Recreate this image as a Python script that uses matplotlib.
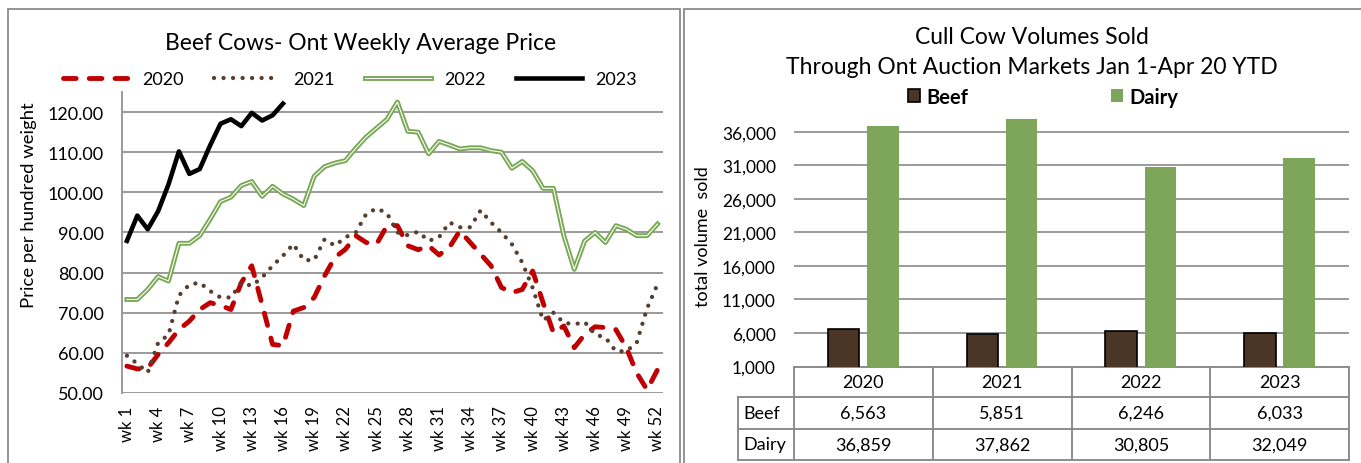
import matplotlib
matplotlib.use("Agg")
import matplotlib.pyplot as plt
from matplotlib.lines import Line2D
from matplotlib.patches import Patch, Rectangle
from matplotlib import transforms

plt.rcParams['font.family'] = ['Lato', 'DejaVu Sans']

# weekly beef cow prices ($/cwt)
weeks = list(range(1, 53))
week_labels = ['wk %d' % w for w in weeks]
p2020 = [56.7, 56.0, 56.2, 59.6, 62.5, 65.8, 67.9, 70.8, 72.5, 71.8,
         70.8, 77.5, 81.7, 72.0, 62.1, 61.8, 70.4, 71.3, 73.8, 79.2,
         83.8, 85.8, 89.2, 87.5, 87.1, 91.7, 91.7, 86.7, 85.7, 86.7,
         84.4, 86.3, 90.4, 87.5, 84.6, 81.7, 76.3, 75.0, 75.8, 80.4,
         72.5, 65.0, 66.7, 61.3, 64.6, 66.5, 66.3, 65.8, 61.3, 55.0,
         50.8, 55.8]
p2021 = [59.3, 57.3, 55.1, 62.5, 64.5, 74.3, 77.0, 77.5, 75.4, 73.8,
         73.8, 77.5, 76.7, 78.8, 81.7, 84.2, 87.1, 83.1, 83.1, 88.3,
         86.7, 88.8, 90.0, 94.6, 96.0, 94.8, 90.0, 89.3, 90.2, 87.9,
         88.8, 92.5, 91.3, 91.3, 95.5, 92.5, 90.0, 87.1, 82.5, 76.2,
         68.1, 70.0, 67.5, 67.1, 67.7, 64.6, 63.8, 60.4, 60.4, 62.5,
         71.1, 77.1]
p2022 = [73.3, 73.3, 75.8, 79.0, 77.9, 87.3, 87.3, 89.2, 93.3, 97.7,
         98.8, 101.7, 102.7, 99.0, 101.5, 99.6, 98.3, 96.7, 104.0, 106.4,
         107.3, 107.9, 111.0, 113.8, 116.0, 118.2, 122.5, 115.2, 115.0, 109.6,
         112.7, 111.8, 110.8, 111.1, 111.1, 110.4, 110.0, 106.0, 107.7, 105.4,
         101.0, 101.0, 89.2, 80.8, 87.9, 90.0, 87.5, 91.7, 90.8, 89.2,
         89.2, 92.1]
p2023 = [87.9, 94.2, 90.8, 95.3, 102.0, 110.2, 104.6, 105.8, 111.7, 117.1,
         118.2, 116.5, 119.8, 117.9, 119.2, 122.1]

# cull cow volumes
years = ['2020', '2021', '2022', '2023']
beef = [6563, 5851, 6246, 6033]
dairy = [36859, 37862, 30805, 32049]

RED = '#C00000'
BROWN = '#563F2E'
GREEN = '#78A853'
BEEF_C = '#4B3526'
DAIRY_C = '#7EA65A'
GRID = '#9a9a9a'

W, H = 1361, 464
fig = plt.figure(figsize=(W / 100, H / 100), dpi=100)

# panel borders
fig.add_artist(Rectangle((8 / W, -0.02), (680 - 8) / W, 1.02 - 10 / H,
                         transform=fig.transFigure, fill=False, ec='#8a8a8a', lw=1.3))
fig.add_artist(Rectangle((684 / W, -0.02), (W + 5 - 684) / W, 1.02 - 10 / H,
                         transform=fig.transFigure, fill=False, ec='#8a8a8a', lw=1.3))

red_ls = (0, (2.6, 2.7))
dot_ls = (0, (0.01, 2.2))

# ---------- left chart: weekly prices ----------
ax = fig.add_axes([121.7 / W, 70 / H, 541 / W, 301 / H])
ax.plot(weeks, p2020, color=RED, lw=3.5, linestyle=red_ls,
        dash_capstyle='round', zorder=3)
ax.plot(weeks, p2021, color=BROWN, lw=3.1, linestyle=dot_ls,
        dash_capstyle='round', zorder=3)
ax.plot(weeks, p2022, color=GREEN, lw=3.5, zorder=3)
ax.plot(weeks, p2022, color='white', lw=0.8, zorder=3)
ax.plot(weeks[:len(p2023)], p2023, color='black', lw=3.3, zorder=4)

ax.set_xlim(0.5, 52.5)
ax.set_ylim(50, 125)
ax.set_yticks(range(50, 121, 10))
ax.set_yticklabels(['%.2f' % v for v in range(50, 121, 10)])
ax.set_xticks(weeks[::3])
ax.set_xticklabels(week_labels[::3], rotation=90)
ax.tick_params(axis='y', length=0, pad=13, labelsize=13)
ax.tick_params(axis='x', length=0, pad=9, labelsize=12)
ax.grid(axis='y', color=GRID, lw=1.4)
ax.set_axisbelow(True)
for s in ['top', 'right', 'bottom']:
    ax.spines[s].set_visible(False)
ax.spines['left'].set_color(GRID)
ax.spines['left'].set_linewidth(1.4)

fig.text(29.5 / W, 1 - 205 / H, 'Price per hundred weight', rotation=90,
         ha='center', va='center', fontsize=13.3)
fig.text(361 / W, 1 - 44 / H, 'Beef Cows- Ont Weekly Average Price',
         ha='center', va='center', fontsize=16.5)

h20 = Line2D([], [], color=RED, lw=3.5, linestyle=red_ls, dash_capstyle='round')
h21 = Line2D([], [], color=BROWN, lw=3.1, linestyle=dot_ls, dash_capstyle='round')
h22 = (Line2D([], [], color=GREEN, lw=3.5), Line2D([], [], color='white', lw=0.8))
h23 = Line2D([], [], color='black', lw=3.3)
fig.legend([h20, h21, h22, h23], years, loc='center',
           bbox_to_anchor=(350 / W, 1 - 80 / H), ncol=4, frameon=False,
           fontsize=13, handlelength=3.65, handletextpad=0.72, columnspacing=1.7)

# ---------- right chart: volumes ----------
ax2 = fig.add_axes([794 / W, 96.5 / H, 555 / W, 254.9 / H])
x = list(range(len(years)))
bw = 0.227
ax2.bar([i - 0.143 for i in x], beef, bw, color=BEEF_C,
        edgecolor='black', lw=1.2, zorder=3)
ax2.bar([i + 0.141 for i in x], dairy, bw, color=DAIRY_C, zorder=3)
ax2.set_xlim(-0.5, 3.5)
ax2.set_ylim(1000, 39000)
yt = list(range(1000, 36001, 5000))
ax2.set_yticks(yt)
ax2.set_yticklabels(['{:,}'.format(v) for v in yt])
ax2.set_xticks([])
ax2.tick_params(axis='y', length=0, pad=13, labelsize=12.5)
ax2.grid(axis='y', color=GRID, lw=1.4)
ax2.set_axisbelow(True)
for s in ax2.spines.values():
    s.set_visible(False)

fig.text(703 / W, 1 - 237 / H, 'total volume  sold', rotation=90,
         ha='center', va='center', fontsize=13)
fig.text(1032 / W, 1 - 38 / H, 'Cull Cow Volumes Sold', ha='center', va='center', fontsize=16.5)
fig.text(1032 / W, 1 - 68 / H, 'Through Ont Auction Markets Jan 1-Apr 20 YTD',
         ha='center', va='center', fontsize=16.5)

fig.legend([Patch(facecolor=BEEF_C, edgecolor='black', lw=1.2), Patch(facecolor=DAIRY_C)],
           ['Beef', 'Dairy'], loc='center', bbox_to_anchor=(1043 / W, 1 - 98 / H),
           ncol=2, frameon=False, prop={'weight': 'bold', 'size': 14.5},
           handlelength=0.62, handleheight=0.62, handletextpad=0.3, columnspacing=7.1)

# data table under the bars
ys = [0.0, -0.12, -0.245, -0.367]
xl = -0.101
tc = '#8c8c8c'

def hline(y, x0, x1):
    ax2.add_line(Line2D([x0, x1], [y, y], transform=ax2.transAxes, color=tc,
                        lw=1.4, clip_on=False))

def vline(xv, y0, y1):
    ax2.add_line(Line2D([xv, xv], [y0, y1], transform=ax2.transAxes, color=tc,
                        lw=1.4, clip_on=False))

hline(ys[0], 0, 1)
for y in ys[1:]:
    hline(y, xl, 1)
vline(xl, ys[1], ys[3])
for k in range(len(years) + 1):
    vline(k / len(years), ys[0], ys[3])

blend = transforms.blended_transform_factory(ax2.transData, ax2.transAxes)
mid = [(ys[i] + ys[i + 1]) / 2 for i in range(3)]
for i, yr in enumerate(years):
    ax2.text(i, mid[0], yr, transform=blend, ha='center', va='center', fontsize=13)
    ax2.text(i, mid[1], '{:,}'.format(beef[i]), transform=blend, ha='center', va='center', fontsize=13)
    ax2.text(i, mid[2], '{:,}'.format(dairy[i]), transform=blend, ha='center', va='center', fontsize=13)
ax2.text(xl + 0.009, mid[1], 'Beef', transform=ax2.transAxes, ha='left', va='center', fontsize=13)
ax2.text(xl + 0.009, mid[2], 'Dairy', transform=ax2.transAxes, ha='left', va='center', fontsize=13)

fig.savefig('out.png', dpi=100)
